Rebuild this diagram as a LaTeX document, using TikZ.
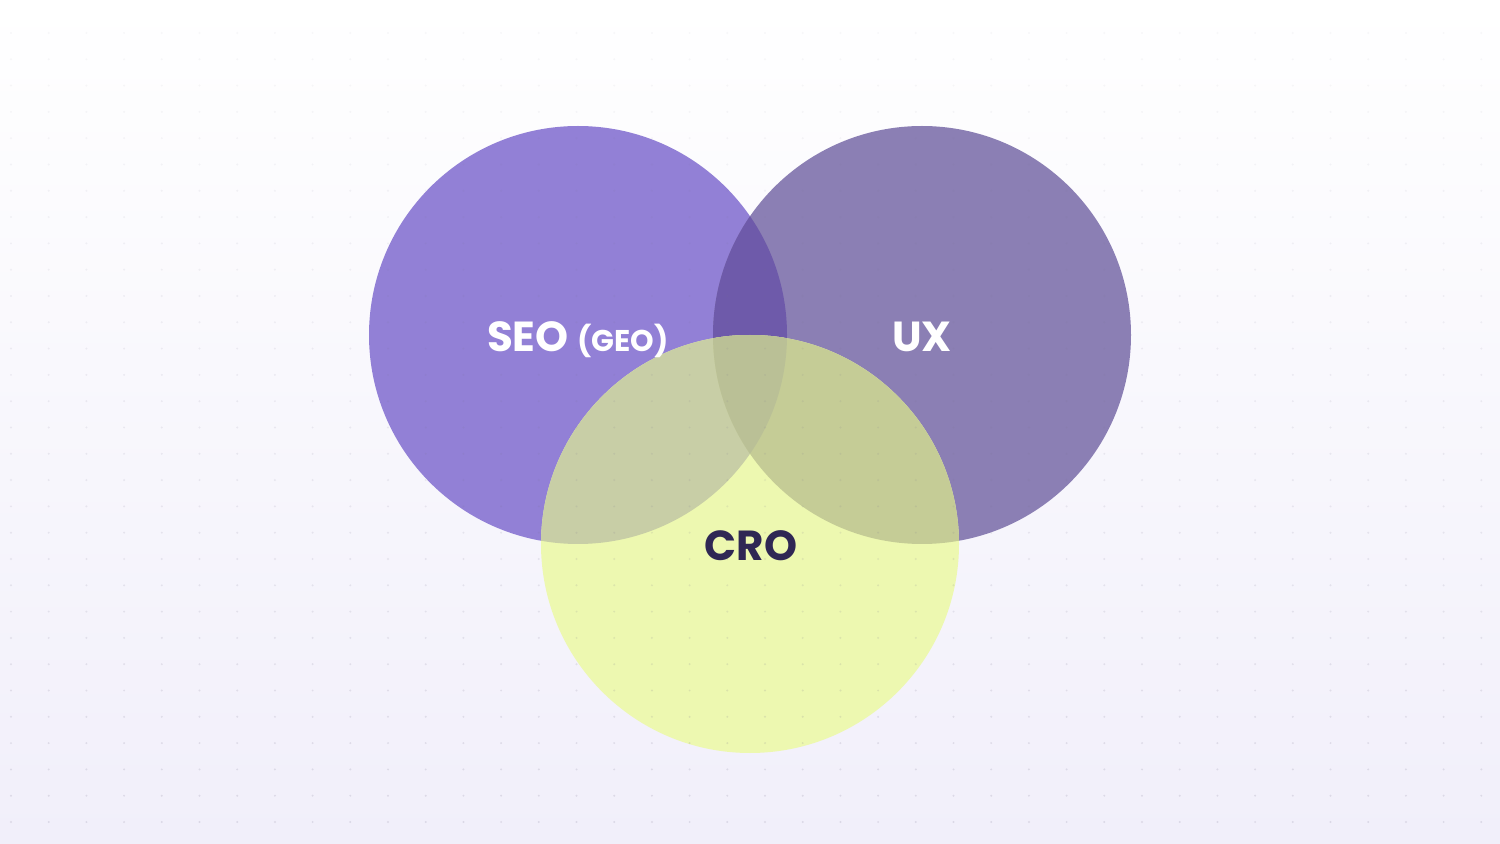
\documentclass[tikz,border=0pt]{standalone}
\usepackage{fontspec}
\setmainfont{Poppins}
\definecolor{bgtop}{HTML}{FFFFFF}
\definecolor{bgbottom}{HTML}{F1EFFA}
\definecolor{dotcol}{HTML}{7A7590}
\definecolor{seofill}{HTML}{9280D6}
\definecolor{uxfill}{HTML}{8B7FB4}
\definecolor{crofill}{HTML}{EDF8B0}
\definecolor{seouxfill}{HTML}{6E5AAA}
\definecolor{seocrofill}{HTML}{C8CEA6}
\definecolor{uxcrofill}{HTML}{C5CC96}
\definecolor{allfill}{HTML}{BAC096}
\definecolor{labeldark}{HTML}{2F2754}
\begin{document}
\begin{tikzpicture}[x=0.5pt, y=-0.5pt,
	venn label/.style={inner sep=0pt, anchor=base, font=\bfseries\fontsize{21}{25}\selectfont}]
		\useasboundingbox (0, 0) rectangle (1500, 844);
		\shade[top color=bgtop, bottom color=bgbottom] (0, 0) rectangle (1500, 844);

		\fill[seofill]	(578, 335) circle (209);
		\fill[uxfill]	(922, 335) circle (209);
		\begin{scope}
			\clip (578, 335) circle (209);
			\fill[seouxfill] (922, 335) circle (209);
		\end{scope}

		\fill[crofill]	(750, 544) circle (209);
		\begin{scope}
			\clip (578, 335) circle (209);
			\fill[seocrofill] (750, 544) circle (209);
		\end{scope}
		\begin{scope}
			\clip (922, 335) circle (209);
			\fill[uxcrofill] (750, 544) circle (209);
			\clip (578, 335) circle (209);
			\fill[allfill] (750, 544) circle (209);
		\end{scope}

		\foreach \i in {0,...,39}
			\foreach \j in {0,...,30}
				\fill[dotcol, opacity={0.05+0.0045*\j}] (11+37.7*\i, 33+26.3*\j) circle (1.1);

		\node[venn label, text=white] (seo) at (578, 352) {SEO {\fontsize{15}{18}\selectfont(GEO)}};
		\node[venn label, text=white] (ux) at (922, 352) {UX};
		\node[venn label, text=labeldark] (cro) at (751, 560) {CRO};
	\end{tikzpicture}
\end{document}
